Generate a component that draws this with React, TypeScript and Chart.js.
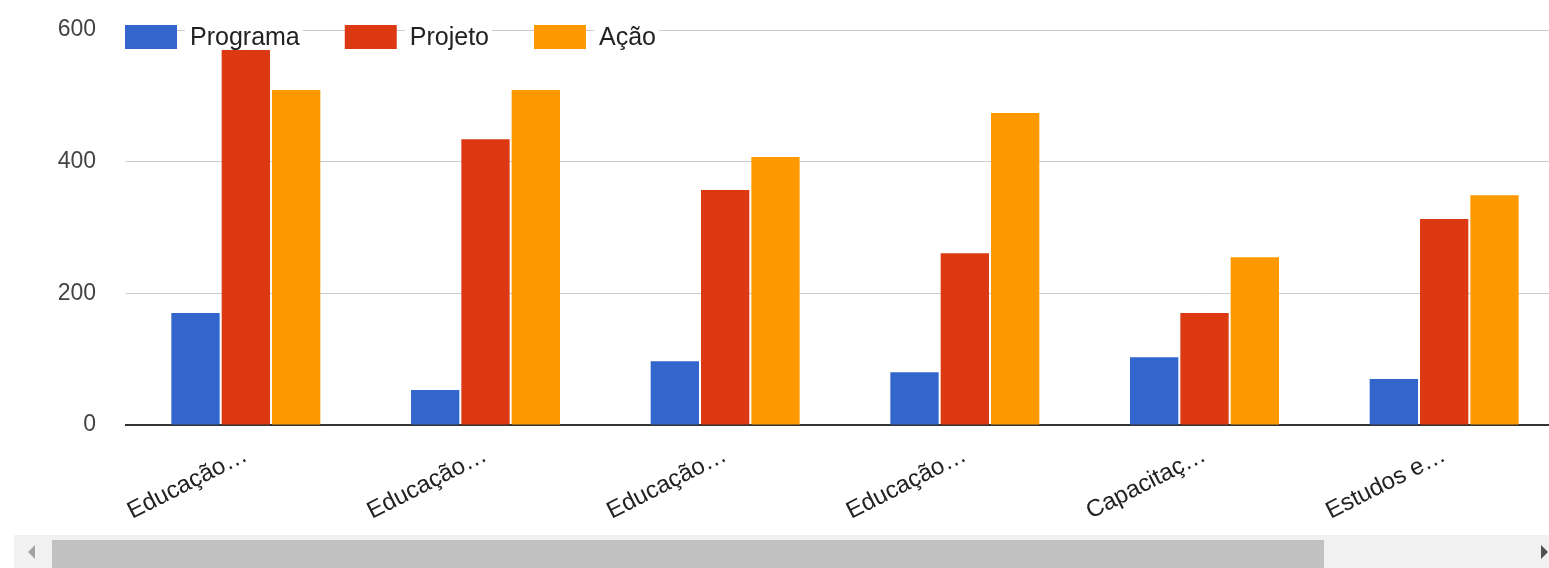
import React, { useEffect, useRef } from "react";
import { Chart, registerables } from "chart.js";

Chart.register(...registerables);

const categories = ["Educação…", "Educação…", "Educação…", "Educação…", "Capacitaç…", "Estudos e…"];
const seriesNames = ["Programa", "Projeto", "Ação"];
const programa = [170, 53, 97, 80, 103, 70];
const projeto = [573, 434, 357, 261, 170, 313];
const acao = [509, 509, 407, 474, 255, 349];
const yTicks = [0, 200, 400, 600];
const colors = ["#3366cc", "#dc3912", "#ff9900"];

const FONT = "'Liberation Sans', Arial, sans-serif";

const legendPlugin = {
  id: "customLegend",
  afterDraw(chart: any) {
    const { ctx, chartArea } = chart;
    ctx.save();
    ctx.font = `25px ${FONT}`;
    ctx.textBaseline = "middle";
    ctx.textAlign = "left";
    let x = chartArea.left - 1;
    const yc = chartArea.top + 7;
    chart.data.datasets.forEach((ds: any) => {
      const label = ds.label as string;
      const tw = ctx.measureText(label).width;
      ctx.fillStyle = "#ffffff";
      ctx.fillRect(x + 60, yc - 13, tw + 8, 26);
      ctx.fillStyle = ds.backgroundColor;
      ctx.fillRect(x, yc - 12, 52, 24);
      ctx.fillStyle = "#222222";
      ctx.fillText(label, x + 65, yc + 1);
      x += 65 + tw + 45;
    });
    ctx.restore();
  },
};

export default function App() {
  const ref = useRef<HTMLCanvasElement | null>(null);
  useEffect(() => {
    if (!ref.current) return;
    const chart = new Chart(ref.current, {
      type: "bar",
      data: {
        labels: categories,
        datasets: [programa, projeto, acao].map((d, i) => ({
          label: seriesNames[i],
          data: d,
          backgroundColor: colors[i],
          barPercentage: 0.96,
          categoryPercentage: 0.63,
        })),
      },
      options: {
        responsive: false,
        animation: false,
        layout: { padding: { top: 30, right: 0, left: 0, bottom: 0 } },
        plugins: { legend: { display: false }, tooltip: { enabled: false } },
        scales: {
          x: {
            grid: { display: false, drawTicks: false },
            border: { display: true, color: "#333333", width: 2 },
            ticks: {
              autoSkip: false,
              minRotation: 27,
              maxRotation: 27,
              padding: 16,
              color: "#222222",
              font: { family: FONT, size: 24 },
            },
            afterFit(scale: any) {
              scale.height = 110;
            },
          },
          y: {
            min: 0,
            max: 600,
            afterBuildTicks(scale: any) {
              scale.ticks = yTicks.map((v) => ({ value: v }));
            },
            grid: {
              color: "#cccccc",
              drawTicks: true,
              tickLength: 30,
              tickColor: "rgba(0,0,0,0)",
              lineWidth: 1,
            },
            border: { display: false },
            ticks: {
              padding: 0,
              color: "#444444",
              font: { family: FONT, size: 23 },
            },
            afterFit(scale: any) {
              scale.width = 126;
            },
          },
        },
      },
      plugins: [legendPlugin],
    });
    return () => chart.destroy();
  }, []);

  return (
    <div
      style={{
        position: "fixed",
        left: 0,
        top: 0,
        width: 1549,
        height: 568,
        overflow: "hidden",
        background: "#ffffff",
      }}
    >
      <canvas ref={ref} width={1564} height={535} style={{ display: "block", width: 1564, height: 535 }} />
      <div style={{ position: "absolute", left: 14, top: 535, width: 1535, height: 33, background: "#f1f1f1" }} />
      <div style={{ position: "absolute", left: 52, top: 540, width: 1272, height: 28, background: "#c1c1c1" }} />
      <div
        style={{
          position: "absolute",
          left: 28,
          top: 545,
          width: 0,
          height: 0,
          borderTop: "7px solid transparent",
          borderBottom: "7px solid transparent",
          borderRight: "7px solid #a3a3a3",
        }}
      />
      <div
        style={{
          position: "absolute",
          left: 1541,
          top: 545,
          width: 0,
          height: 0,
          borderTop: "7px solid transparent",
          borderBottom: "7px solid transparent",
          borderLeft: "7px solid #505050",
        }}
      />
    </div>
  );
}
